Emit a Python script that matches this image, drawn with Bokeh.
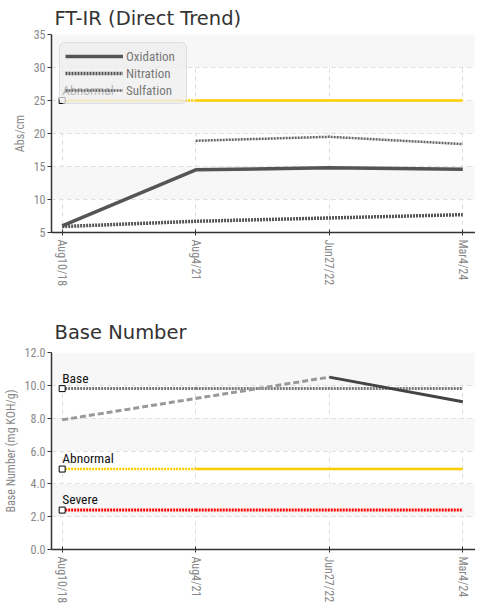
import math
from bokeh.plotting import figure
from bokeh.models import FixedTicker, Range1d, Legend, LegendItem
from bokeh.layouts import column
from bokeh.core.properties import value
from bokeh.embed import file_html
from bokeh.resources import INLINE

# ---------------- data ----------------
dates = ["Aug10/18", "Aug4/21", "Jun27/22", "Mar4/24"]

oxidation = [6.0, 14.5, 14.8, 14.6]
nitration = [5.9, 6.7, 7.2, 7.7]
sulfation = [float("nan"), 18.9, 19.5, 18.4]
ftir_abnormal = 25.0
ftir_ticks = [5, 10, 15, 20, 25, 30, 35]
ftir_title = "FT-IR (Direct Trend)"

base_number = [7.9, float("nan"), 10.5, 9.0]
bn_base = 9.8
bn_abnormal = 4.9
bn_severe = 2.4
bn_ticks = [0, 2, 4, 6, 8, 10, 12]
bn_title = "Base Number"

# ---------------- style ----------------
FONT = "'Roboto Condensed', Roboto"
TITLE_FONT = "DejaVu Sans"
TITLE_SIZE = "19.5px"
X0, X1 = -0.08, 3.095
xs = list(range(len(dates)))


def style(p, yticks, ylabel, title_standoff, fmt=None):
    p.outline_line_color = None
    p.background_fill_color = "white"
    p.title.text_font = TITLE_FONT
    p.title.text_font_size = TITLE_SIZE
    p.title.text_font_style = "normal"
    p.title.text_color = "#333333"
    p.title.standoff = title_standoff
    p.title.offset = 3

    p.xaxis.ticker = FixedTicker(ticks=xs)
    p.xaxis.major_label_overrides = {i: d for i, d in enumerate(dates)}
    p.xaxis.major_label_orientation = "vertical"
    p.yaxis.ticker = FixedTicker(ticks=yticks)
    if fmt:
        p.yaxis.major_label_overrides = {t: fmt.format(t) for t in yticks}
    for ax in (p.xaxis, p.yaxis):
        ax.axis_line_color = "#333333"
        ax.axis_line_width = 1.5
        ax.major_tick_line_color = "#333333"
        ax.minor_tick_line_color = None
        ax.major_label_text_font = FONT
        ax.major_label_text_font_size = "12px"
        ax.major_label_text_color = "#888888"
    p.xaxis.major_tick_in = 3
    p.xaxis.major_tick_out = 3
    p.xaxis.major_label_standoff = 4
    p.yaxis.major_tick_in = 0
    p.yaxis.major_tick_out = 4
    p.yaxis.major_label_standoff = 2
    p.yaxis.axis_label = ylabel
    p.yaxis.axis_label_text_font = FONT
    p.yaxis.axis_label_text_font_size = "12px"
    p.yaxis.axis_label_text_font_style = "normal"
    p.yaxis.axis_label_text_color = "#888888"
    p.yaxis.axis_label_standoff = 4

    for g in (p.xgrid, p.ygrid):
        g.grid_line_color = "#dddddd"
        g.grid_line_dash = "4 4"
        g.grid_line_width = 1
    p.ygrid.band_fill_color = "#f7f7f7"
    p.ygrid.band_fill_alpha = 1.0


def threshold(p, level, label, color, first_dash, rest_dash, width):
    p.line(xs[:2], [level] * 2, line_color=color, line_width=width, line_dash=first_dash)
    p.line(xs[1:], [level] * (len(xs) - 1), line_color=color, line_width=width, line_dash=rest_dash)
    p.scatter([xs[0]], [level], marker="square", size=6, fill_color="white",
              line_color="black", line_width=1)
    p.text([xs[0]], [level], text=[label], text_font=value(FONT), text_font_size="13.5px",
           text_color="#111111", text_baseline="bottom", text_align="left",
           x_offset=0, y_offset=-3)


# ---------------- FT-IR chart ----------------
p1 = figure(width=475, height=292, output_backend="svg", toolbar_location=None,
            title=ftir_title,
            x_range=Range1d(X0, X1), y_range=Range1d(ftir_ticks[0], ftir_ticks[-1]),
            min_border_left=42, min_border_right=0, min_border_top=34, min_border_bottom=60)
style(p1, ftir_ticks, "Abs/cm", 9)

threshold(p1, ftir_abnormal, "Abnormal", "#ffcc00", "2 1", "solid", 2.5)

r_ox = p1.line(xs, oxidation, line_color="#555555", line_width=3.5)
r_ni = p1.line(xs, nitration, line_color="#555555", line_width=3.5, line_dash="2 1")
r_su = p1.line(xs, sulfation, line_color="#666666", line_width=2.5, line_dash="2 1")

legend = Legend(items=[LegendItem(label="Oxidation", renderers=[r_ox]),
                       LegendItem(label="Nitration", renderers=[r_ni]),
                       LegendItem(label="Sulfation", renderers=[r_su])],
                location="top_left")
legend.margin = 8
legend.padding = 5
legend.spacing = 1
legend.glyph_width = 58
legend.glyph_height = 16
legend.label_height = 16
legend.label_width = 55
legend.label_standoff = 3
legend.label_text_font = FONT
legend.label_text_font_size = "13px"
legend.label_text_color = "#777777"
legend.background_fill_color = "#eeeeee"
legend.background_fill_alpha = 0.75
legend.border_line_color = "#cccccc"
legend.border_line_width = 1
if "border_radius" in Legend.properties():
    legend.border_radius = 6
p1.add_layout(legend)

# ---------------- Base Number chart ----------------
p2 = figure(width=475, height=318, output_backend="svg", toolbar_location=None,
            title=bn_title,
            x_range=Range1d(X0, X1), y_range=Range1d(bn_ticks[0], bn_ticks[-1]),
            min_border_left=42, min_border_right=0, min_border_top=60, min_border_bottom=61)
style(p2, bn_ticks, "Base Number (mg KOH/g)", 17, fmt="{:.1f}")

threshold(p2, bn_base, "Base", "#777777", "2 1", "2 1", 3)
threshold(p2, bn_abnormal, "Abnormal", "#ffcc00", "2 1", "solid", 2.5)
threshold(p2, bn_severe, "Severe", "#ff0000", "2 1", "2 1", 3)

valid = [i for i, v in enumerate(base_number) if not math.isnan(v)]
for a, b in zip(valid[:-1], valid[1:]):
    seg_x = [xs[a], xs[b]]
    seg_y = [base_number[a], base_number[b]]
    if b - a > 1:
        p2.line(seg_x, seg_y, line_color="#999999", line_width=3, line_dash="6 3")
    else:
        p2.line(seg_x, seg_y, line_color="#444444", line_width=3)

layout = column(p1, p2, spacing=0)
open("out.html", "w").write(file_html(layout, INLINE))
